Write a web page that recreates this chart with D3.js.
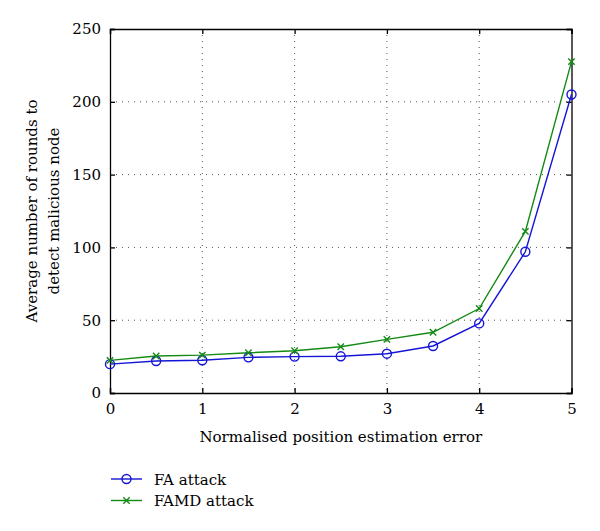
<!DOCTYPE html>
<html><head><meta charset="utf-8">
<script src="https://cdn.jsdelivr.net/npm/d3@7/dist/d3.min.js"></script>
<style>body{margin:0;background:#fff}svg{display:block}</style>
</head><body><svg id="c" width="600" height="531"></svg>
<script>
const xValues = [0, 0.5, 1, 1.5, 2, 2.5, 3, 3.5, 4, 4.5, 5];
const faAttack = [19.8, 22, 22.5, 24.5, 25, 25.2, 27, 32.3, 47.8, 97, 205];
const famdAttack = [22.4, 25.4, 26, 27.6, 29, 31.8, 36.8, 41.7, 58, 111, 227.6];
const xTicks = [0, 1, 2, 3, 4, 5];
const yTicks = [0, 50, 100, 150, 200, 250];
const seriesNames = ["FA attack", "FAMD attack"];
const seriesColors = ["#1515d6", "#138a13"];
const FONT = "DejaVu Serif";

const svg = d3.select("#c");
const L = 110, R = 571.5, T = 29, B = 393;
const x = d3.scaleLinear().domain([0, 5]).range([L, R]);
const y = d3.scaleLinear().domain([0, 250]).range([B, T]);

// grid
const g = svg.append("g");
g.selectAll(".gx").data(xTicks.slice(1, -1)).enter().append("line")
  .attr("x1", d => x(d)).attr("x2", d => x(d)).attr("y1", T).attr("y2", B)
  .attr("stroke", "#555").attr("stroke-width", 1).attr("stroke-dasharray", "1,5");
g.selectAll(".gy").data(yTicks.slice(1, -1)).enter().append("line")
  .attr("y1", d => y(d)).attr("y2", d => y(d)).attr("x1", L).attr("x2", R)
  .attr("stroke", "#555").attr("stroke-width", 1).attr("stroke-dasharray", "1,5");

// axes (inward ticks, box)
const ax = d3.axisBottom(x).tickValues(xTicks).tickSize(-5).tickPadding(10).tickFormat(d3.format("d"));
const ay = d3.axisLeft(y).tickValues(yTicks).tickSize(-5).tickPadding(9).tickFormat(d3.format("d"));
const axT = d3.axisTop(x).tickValues(xTicks).tickSize(-5).tickFormat("");
const ayR = d3.axisRight(y).tickValues(yTicks).tickSize(-5).tickFormat("");
const styleAxis = sel => { sel.attr("font-family", FONT).attr("font-size", 15);
  sel.selectAll("path,line").attr("stroke", "#000").attr("stroke-width", 1.3);
  sel.selectAll("text").attr("fill", "#000"); };
svg.append("g").attr("transform", `translate(0,${B})`).call(ax).call(styleAxis);
svg.append("g").attr("transform", `translate(${L},0)`).call(ay).call(styleAxis);
svg.append("g").attr("transform", `translate(0,${T})`).call(axT).call(styleAxis);
svg.append("g").attr("transform", `translate(${R},0)`).call(ayR).call(styleAxis);
svg.selectAll(".domain").attr("fill", "none");

// series
const data = [faAttack, famdAttack];
const line = d3.line().x((d, i) => x(xValues[i])).y(d => y(d));
data.forEach((s, k) => {
  svg.append("path").datum(s).attr("d", line).attr("fill", "none")
    .attr("stroke", seriesColors[k]).attr("stroke-width", 1.4);
});
// markers
svg.selectAll(".o").data(faAttack).enter().append("circle")
  .attr("cx", (d, i) => x(xValues[i])).attr("cy", d => y(d)).attr("r", 4.5)
  .attr("fill", "none").attr("stroke", seriesColors[0]).attr("stroke-width", 1.4);
const xm = (sel, s) => sel.append("path")
  .attr("d", `M${-s},${-s}L${s},${s}M${-s},${s}L${s},${-s}`)
  .attr("stroke", seriesColors[1]).attr("stroke-width", 1.4).attr("fill", "none");
famdAttack.forEach((d, i) => {
  xm(svg.append("g").attr("transform", `translate(${x(xValues[i])},${y(d)})`), 3.2);
});

// labels
svg.append("text").attr("x", (L + R) / 2).attr("y", 442).attr("text-anchor", "middle")
  .attr("font-family", FONT).attr("font-size", 15).text("Normalised position estimation error");
const yl = svg.append("text").attr("transform", "translate(37,211) rotate(-90)")
  .attr("text-anchor", "middle").attr("font-family", FONT).attr("font-size", 15);
yl.append("tspan").attr("x", 0).attr("dy", 0).text("Average number of rounds to");
yl.append("tspan").attr("x", 0).attr("dy", 22).text("detect malicious node");

// legend
const leg = svg.append("g");
seriesNames.forEach((n, k) => {
  const yy = 479 + k * 21.5;
  leg.append("line").attr("x1", 111).attr("x2", 142).attr("y1", yy).attr("y2", yy)
    .attr("stroke", seriesColors[k]).attr("stroke-width", 1.4);
  if (k === 0) leg.append("circle").attr("cx", 126.5).attr("cy", yy).attr("r", 4.5)
    .attr("fill", "none").attr("stroke", seriesColors[0]).attr("stroke-width", 1.4);
  else xm(leg.append("g").attr("transform", `translate(126.5,${yy})`), 3.2);
  leg.append("text").attr("x", 154).attr("y", yy + 5.5).attr("font-family", FONT).attr("font-size", 15).text(n);
});
</script></body></html>
